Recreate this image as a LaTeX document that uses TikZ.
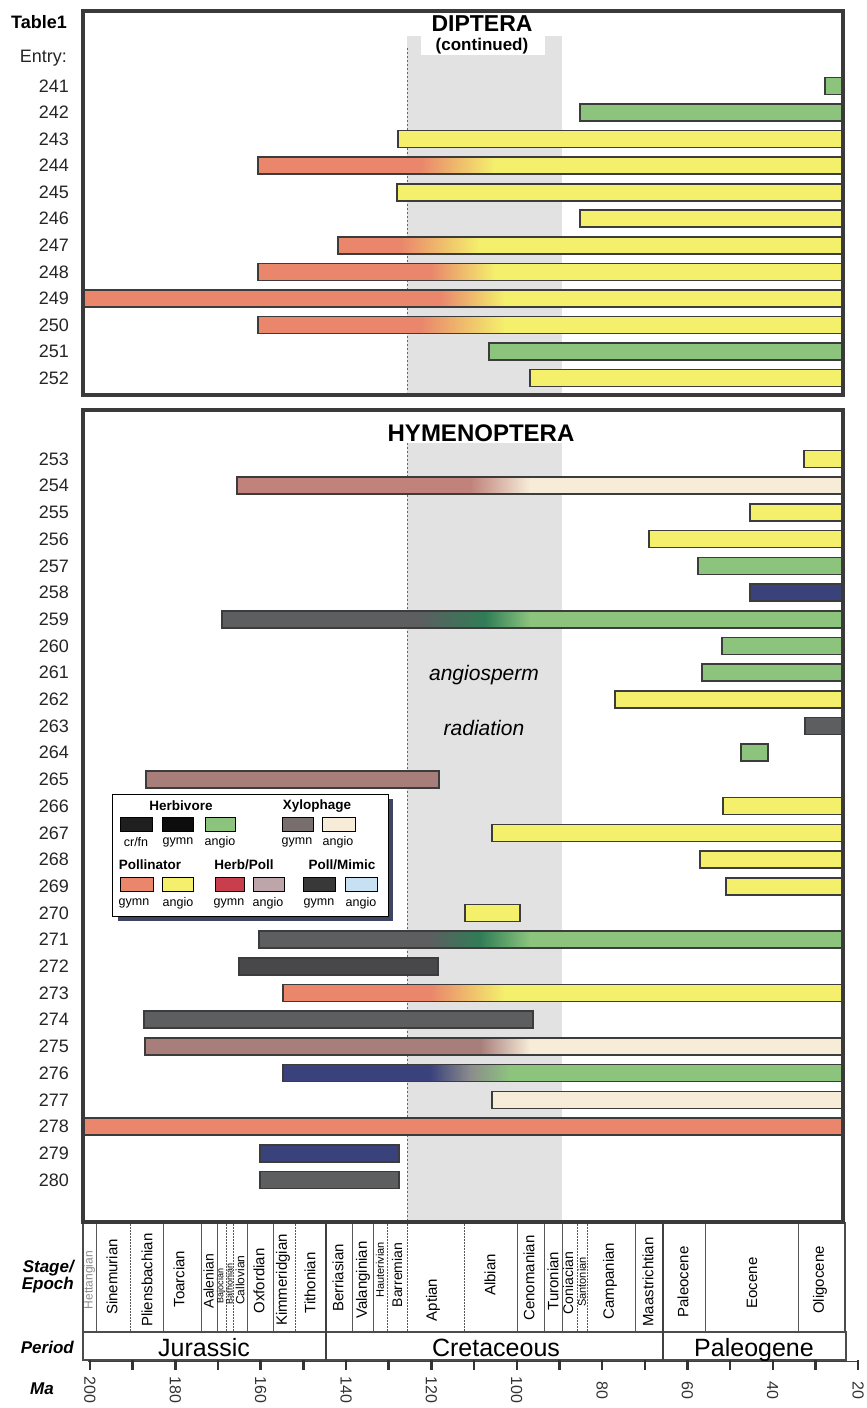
\documentclass[tikz,border=0pt]{standalone}
\usepackage{fontspec}
\setmainfont{Liberation Sans}
\definecolor{cY}{RGB}{244,240,108}
\definecolor{cR}{RGB}{233,134,108}
\definecolor{cG}{RGB}{140,196,126}
\definecolor{cDG}{RGB}{48,125,86}
\definecolor{cK}{RGB}{92,94,96}
\definecolor{cKK}{RGB}{72,72,74}
\definecolor{cB}{RGB}{58,66,124}
\definecolor{cM}{RGB}{168,126,122}
\definecolor{cMR}{RGB}{192,130,122}
\definecolor{cC}{RGB}{246,236,216}
\definecolor{cBand}{RGB}{226,226,226}
\definecolor{frameC}{RGB}{58,58,58}
\definecolor{barC}{RGB}{60,60,60}
\definecolor{shadowC}{RGB}{62,68,98}
\definecolor{cMid}{RGB}{140,140,140}
\definecolor{lgRed}{RGB}{200,62,76}
\definecolor{lgMauve}{RGB}{190,165,170}
\definecolor{lgBlue}{RGB}{200,225,242}
\definecolor{lgXg}{RGB}{120,110,110}
\newcommand{\fs}[1]{\fontsize{#1}{#1}\selectfont}
\newcommand{\mybar}[4]{\fill[#4] (#2,#1-8.5) rectangle (#3,#1+8.5);
  \draw[barline] (#2,#1-8.5) rectangle (#3,#1+8.5);}
\newcommand{\mygbar}[7]{\fill[#4] (#2,#1-8.5) rectangle (#5+0.5,#1+8.5);
  \fill[#7] (#6-0.5,#1-8.5) rectangle (#3,#1+8.5);
  \shade[left color=#4,right color=#7] (#5,#1-8.5) rectangle (#6,#1+8.5);
  \draw[barline] (#2,#1-8.5) rectangle (#3,#1+8.5);}
\newcommand{\myggbar}[9]{\fill[#4] (#2,#1-8.5) rectangle (#5+0.5,#1+8.5);
  \fill[#9] (#8-0.5,#1-8.5) rectangle (#3,#1+8.5);
  \shade[left color=#4,right color=#7] (#5,#1-8.5) rectangle (#6+0.3,#1+8.5);
  \shade[left color=#7,right color=#9] (#6,#1-8.5) rectangle (#8,#1+8.5);
  \draw[barline] (#2,#1-8.5) rectangle (#3,#1+8.5);}
\newcommand{\stg}[4]{\node[rotate=90,font=\fs{#3}] at (#1,#2) {#4};}
\begin{document}
\begin{tikzpicture}[x=1pt,y=-1pt,
  rowlab/.style={anchor=east,font=\fs{18},text=black!85,inner sep=0pt},
  barline/.style={draw=barC,line width=1.6pt},
  frame/.style={draw=frameC,line width=3.8pt},
  bandedge/.style={draw=black!60,line width=0.7pt,dash pattern=on 2pt off 2pt},
  sw/.style={draw=black,line width=0.9pt},
  lghead/.style={font=\bfseries\fs{13.5},inner sep=0pt},
  lglab/.style={font=\fs{12.5},inner sep=0pt},
  stsolid/.style={draw=black!65,line width=0.9pt},
  stdash/.style={draw=black!65,line width=0.8pt,dash pattern=on 1.5pt off 1.5pt},
  boxline/.style={draw=black!70,line width=1.6pt},
  perline/.style={draw=black!75,line width=2pt},
  perlab/.style={font=\fs{25},anchor=base,inner sep=0pt},
  sidelab/.style={anchor=east,font=\bfseries\itshape\fs{17},inner sep=0pt}]
\useasboundingbox (0,0) rectangle (867,1408);
\fill[white] (0,0) rectangle (867,1408);

% angiosperm radiation band
\fill[cBand] (407,36) rectangle (562,393);
\fill[white] (421,34) rectangle (545,55);
\fill[cBand] (407,443) rectangle (562,1221);
\draw[bandedge] (407,48) -- (407,392);
\draw[bandedge] (407,443) -- (407,1220);
\node[font=\itshape\fs{21}] (angio) at (484,675) {angiosperm};
\node[font=\itshape\fs{21}] (radi) at (484,728) {radiation};

% row labels
\node[anchor=east,font=\bfseries\fs{18},inner sep=0pt] (tab) at (67,22) {Table1};
\node[anchor=east,font=\fs{18},text=black!85,inner sep=0pt] (entry) at (67,58) {Entry:};
\foreach \n [count=\i from 0] in {241,...,252}
  \node[rowlab] (r\n) at (69,86+\i*26.55) {\n};
\foreach \n [count=\i from 0] in {253,...,280}
  \node[rowlab] (r\n) at (69,459+\i*26.7) {\n};

% DIPTERA bars
\mybar{86}{825}{843}{cG}
\mybar{112.55}{580}{843}{cG}
\mybar{139.1}{398}{843}{cY}
\mygbar{165.65}{258}{843}{cR}{420}{495}{cY}
\mybar{192.2}{397}{843}{cY}
\mybar{218.75}{580}{843}{cY}
\mygbar{245.3}{338}{843}{cR}{400}{480}{cY}
\mygbar{271.85}{258}{843}{cR}{430}{495}{cY}
\mygbar{298.4}{83}{843}{cR}{440}{505}{cY}
\mygbar{324.95}{258}{843}{cR}{420}{505}{cY}
\mybar{351.5}{489}{843}{cG}
\mybar{378.05}{530}{843}{cY}

% HYMENOPTERA bars
\mybar{459}{804}{843}{cY}
\mygbar{485.7}{237}{843}{cMR}{470}{530}{cC}
\mybar{512.4}{750}{843}{cY}
\mybar{539.1}{649}{843}{cY}
\mybar{565.8}{698}{843}{cG}
\mybar{592.5}{750}{843}{cB}
\myggbar{619.2}{222}{843}{cK}{420}{485}{cDG}{530}{cG}
\mybar{645.9}{722}{843}{cG}
\mybar{672.6}{702}{843}{cG}
\mybar{699.3}{615}{843}{cY}
\mybar{726}{805}{843}{cK}
\mybar{752.7}{741}{768}{cG}
\mybar{779.4}{146}{439}{cM}
\mybar{806.1}{723}{843}{cY}
\mybar{832.8}{492}{843}{cY}
\mybar{859.5}{700}{843}{cY}
\mybar{886.2}{726}{843}{cY}
\mybar{912.9}{465}{520}{cY}
\myggbar{939.6}{259}{843}{cK}{430}{480}{cDG}{530}{cG}
\mybar{966.3}{239}{438}{cKK}
\mygbar{993}{283}{843}{cR}{430}{505}{cY}
\mybar{1019.7}{144}{533}{cK}
\mygbar{1046.4}{145}{843}{cM}{480}{530}{cC}
\myggbar{1073.1}{283}{843}{cB}{430}{470}{cMid}{510}{cG}
\mybar{1099.8}{492}{843}{cC}
\mybar{1126.5}{83}{843}{cR}
\mybar{1153.2}{260}{399}{cB}
\mybar{1179.9}{260}{399}{cK}

% legend
\fill[shadowC] (118,915) rectangle (393,921);
\fill[shadowC] (387,799) rectangle (393,921);
\draw[fill=white,draw=black,line width=1pt] (112,794) rectangle (388,916);
\node[lghead] (lh1) at (181,806) {Herbivore};
\node[lghead] (lh2) at (317,806) {Xylophage};
\draw[sw,fill=black!88] (120,817) rectangle (152,831);
\draw[sw,fill=black!95] (162,817) rectangle (193,831);
\draw[sw,fill=cG] (205,817) rectangle (235,831);
\draw[sw,fill=lgXg] (282,817) rectangle (313,831);
\draw[sw,fill=cC] (322,817) rectangle (355,831);
\node[lglab] (l1) at (136,842) {cr/fn};
\node[lglab] (l2) at (178,842) {gymn};
\node[lglab] (l3) at (220,842) {angio};
\node[lglab] (l4) at (297,842) {gymn};
\node[lglab] (l5) at (338,842) {angio};
\node[lghead] (lh3) at (150,865) {Pollinator};
\node[lghead] (lh4) at (244,865) {Herb/Poll};
\node[lghead] (lh5) at (342,865) {Poll/Mimic};
\draw[sw,fill=cR] (120,877) rectangle (153,891);
\draw[sw,fill=cY] (162,877) rectangle (193,891);
\draw[sw,fill=lgRed] (215,877) rectangle (244,891);
\draw[sw,fill=lgMauve] (253,877) rectangle (284,891);
\draw[sw,fill=black!78] (303,877) rectangle (335,891);
\draw[sw,fill=lgBlue] (345,877) rectangle (377,891);
\node[lglab] (m1) at (134,903) {gymn};
\node[lglab] (m2) at (178,903) {angio};
\node[lglab] (m3) at (229,903) {gymn};
\node[lglab] (m4) at (268,903) {angio};
\node[lglab] (m5) at (319,903) {gymn};
\node[lglab] (m6) at (361,903) {angio};

% stage / epoch row
\foreach \x in {96,163,201,217,247,273,352,373,517,544,562,635,705,798}
  \draw[stsolid] (\x,1224) -- (\x,1332);
\foreach \x in {130,226,233,295,387,407,464,577,587}
  \draw[stdash] (\x,1224) -- (\x,1332);
\draw[boxline] (83,1223) rectangle (845,1332);
\draw[boxline] (83,1332) rectangle (846,1360);
\draw[perline] (326,1223) -- (326,1360);
\draw[perline] (663,1223) -- (663,1360);
\node[rotate=90,font=\fs{12},text=black!45] (hett) at (89.5,1280) {Hettangian};
\stg{112}{1277}{15}{Sinemurian}
\stg{147}{1280}{15}{Pliensbachian}
\stg{179}{1279}{15}{Toarcian}
\stg{208.5}{1281}{14}{Aalenian}
\stg{221}{1286}{9}{Bajocian}
\stg{229.5}{1284}{9}{Bathonian}
\stg{240}{1280}{12}{Callovian}
\stg{259}{1281}{15}{Oxfordian}
\stg{283}{1280}{15}{Kimmeridgian}
\stg{310}{1283}{15}{Tithonian}
\stg{338}{1278}{15}{Berriasian}
\stg{363}{1280}{15}{Valanginian}
\stg{380}{1270}{11}{Hauterivian}
\stg{397}{1275}{14}{Barremian}
\stg{433}{1300}{15}{Aptian}
\stg{490}{1275}{15}{Albian}
\stg{529}{1278}{15}{Cenomanian}
\stg{553}{1281}{15}{Turonian}
\stg{568}{1283}{14}{Coniacian}
\stg{582}{1282}{11}{Santonian}
\stg{610}{1281}{15}{Campanian}
\stg{648}{1282}{15}{Maastrichtian}
\stg{683}{1282}{15}{Paleocene}
\stg{752}{1283}{15}{Eocene}
\stg{820}{1280}{15}{Oligocene}
\node[perlab] (jur) at (204,1356) {Jurassic};
\node[perlab] (cre) at (496,1356) {Cretaceous};
\node[perlab] (pal) at (754,1356) {Paleogene};

% Ma axis
\draw[draw=black!75,line width=1pt] (88,1361) -- (858,1361);
\foreach \m in {200,190,...,20}
  \draw[draw=black!80,line width=2.4pt] ({90+(200-\m)*4.267},1360) -- ({90+(200-\m)*4.267},1370);
\foreach \m in {200,180,...,20}
  \node[rotate=-90,font=\fs{16},text=black!80] at ({90+(200-\m)*4.267},1390) {\m};
\node[sidelab] (stage) at (74,1268) {Stage/};
\node[sidelab] (epoch) at (74,1285) {Epoch};
\node[sidelab] (period) at (74,1347) {Period};
\node[font=\bfseries\itshape\fs{17},inner sep=0pt] (ma) at (42,1389) {Ma};

% panel frames
\draw[frame] (83,11) rectangle (843,395);
\draw[frame] (83,410) rectangle (843,1222);

% titles
\node[font=\bfseries\fs{23},inner sep=0pt] (dip) at (482,24) {DIPTERA};
\node[font=\bfseries\fs{17},inner sep=0pt] (cont) at (482,46.5) {(continued)};
\node[font=\bfseries\fs{24},fill=white,inner sep=1pt] (hym) at (481,433) {HYMENOPTERA};
\end{tikzpicture}
\end{document}
